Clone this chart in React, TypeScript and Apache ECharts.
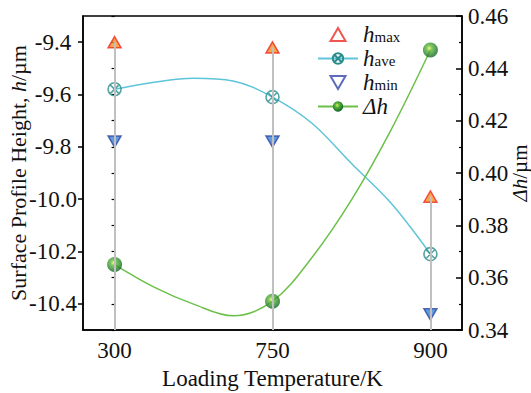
import React, { useEffect, useRef } from "react";
import * as echarts from "echarts";

// Categories (loading temperature, K) placed at equal spacing
const categories = ["300", "750", "900"];
const catIndex = [0, 1, 2];

// Measured points
const hMax = [-9.4, -9.42, -9.99];
const hAve = [-9.58, -9.61, -10.21];
const hMin = [-9.78, -9.78, -10.44];
const dH = [0.365, 0.351, 0.447];

// Fitted curves (x in category-index units)
const curveX = [0, 0.25, 0.5, 0.75, 1, 1.25, 1.5, 1.75, 2];
const hAveCurve = [-9.58, -9.553, -9.538, -9.548, -9.61, -9.71, -9.864, -10.015, -10.21];
const dHCurve = [0.365, 0.3564, 0.3499, 0.3454, 0.351, 0.3677, 0.3897, 0.4164, 0.447];

// Axis ticks
const leftMajor = [-10.4, -10.2, -10.0, -9.8, -9.6, -9.4];
const leftMin = -10.5;
const leftMax = -9.3;
const rightMin = 0.34;
const rightMax = 0.46;
const rightInterval = 0.02;

const FONT = "Liberation Serif";
const xPath =
  "path://M0,10 A10,10 0 1,0 20,10 A10,10 0 1,0 0,10 Z M2.93,2.93 L17.07,17.07 M17.07,2.93 L2.93,17.07";
const triUp = "path://M10,0 L20,17.32 L0,17.32 Z";
const triDown = "path://M0,0 L20,0 L10,17.32 Z";

const ballColor = () =>
  new echarts.graphic.RadialGradient(0.42, 0.38, 0.62, [
    { offset: 0, color: "#eef25a" },
    { offset: 0.3, color: "#5fb83c" },
    { offset: 1, color: "#0d6526" },
  ]);

const legendNames: Record<string, string> = {
  hmax: "{i|h}{s|max}",
  have: "{i|h}{s|ave}",
  hmin: "{i|h}{s|min}",
  "Δh": "{i|Δh}",
};

export default function App() {
  const ref = useRef<HTMLDivElement>(null);
  useEffect(() => {
    if (!ref.current) return;
    const chart = echarts.init(ref.current, null, { renderer: "svg" });
    const axisText = { fontFamily: FONT, fontSize: 23, color: "#111" };
    const leftName = { fontFamily: FONT, fontSize: 22, color: "#111" };
    const rightName = { fontFamily: FONT, fontSize: 21, color: "#111" };
    const option: any = {
      animation: false,
      grid: {
        left: 83,
        right: 69,
        top: 16,
        bottom: 63,
        show: true,
        borderColor: "#000",
        borderWidth: 1.5,
        outerBoundsMode: "none",
        containLabel: false,
      },
      legend: {
        orient: "vertical",
        left: 312,
        top: 18,
        itemWidth: 40,
        itemHeight: 13,
        itemGap: 1,
        data: [
          { name: "hmax", itemStyle: { color: "#fff", borderColor: "#ee2a24" } },
          { name: "have" },
          { name: "hmin", itemStyle: { color: "#fff", borderColor: "#3546a8" } },
          { name: "Δh" },
        ],
        formatter: (n: string) => legendNames[n] || n,
        textStyle: {
          rich: {
            i: { fontFamily: FONT, fontStyle: "italic", fontSize: 23, color: "#111", lineHeight: 20 },
            s: { fontFamily: FONT, fontSize: 15, color: "#111", lineHeight: 11, verticalAlign: "bottom" },
          },
        },
      },
      xAxis: {
        type: "value",
        min: -0.2,
        max: 2.2,
        axisLine: { show: true, onZero: false, lineStyle: { color: "#000", width: 1.5 } },
        axisTick: { show: true, inside: true, length: 6, customValues: catIndex, lineStyle: { color: "#000", width: 1.5 } },
        axisLabel: {
          customValues: catIndex,
          formatter: (v: number) => categories[Math.round(v)] ?? "",
          margin: 9,
          ...axisText,
        },
        splitLine: { show: false },
        name: "Loading Temperature/K",
        nameLocation: "middle",
        nameGap: 37,
        nameMoveOverlap: false,
        nameTextStyle: axisText,
      },
      yAxis: [
        {
          type: "value",
          position: "left",
          min: leftMin,
          max: leftMax,
          axisLine: { show: true, onZero: false, lineStyle: { color: "#000", width: 1.5 } },
          axisTick: { show: true, inside: false, length: 5, customValues: leftMajor, lineStyle: { color: "#000", width: 1.5 } },
          axisLabel: {
            customValues: leftMajor,
            formatter: (v: number) => v.toFixed(1),
            margin: 30,
            align: "center",
            ...axisText,
          },
          splitLine: { show: false },
          name: "{n|Surface Profile Height, }{i|h}{n|/µm}",
          nameLocation: "middle",
          nameGap: 54,
          nameMoveOverlap: false,
          nameTextStyle: {
            rich: {
              n: leftName,
              i: { ...leftName, fontStyle: "italic" },
            },
          },
        },
        {
          type: "value",
          position: "right",
          min: rightMin,
          max: rightMax,
          interval: rightInterval,
          axisLine: { show: true, onZero: false, lineStyle: { color: "#000", width: 1.5 } },
          axisTick: { show: true, inside: true, length: 6, lineStyle: { color: "#000", width: 1.5 } },
          minorTick: { show: true, splitNumber: 2, length: 3, lineStyle: { color: "#000", width: 1.2 } },
          axisLabel: { formatter: (v: number) => v.toFixed(2), margin: 6, ...axisText },
          splitLine: { show: false },
          name: "{i|Δh}{n|/µm}",
          nameLocation: "middle",
          nameGap: 47,
          nameRotate: 90,
          nameMoveOverlap: false,
          nameTextStyle: {
            rich: {
              n: rightName,
              i: { ...rightName, fontStyle: "italic" },
            },
          },
        },
        {
          type: "value",
          position: "left",
          min: leftMin,
          max: leftMax,
          interval: 0.1,
          axisLine: { show: false },
          axisTick: { show: true, inside: false, length: 3, lineStyle: { color: "#000", width: 1.2 } },
          axisLabel: { show: false },
          splitLine: { show: false },
        },
      ],
      series: [
        {
          name: "drop",
          type: "line",
          data: [],
          z: 1,
          markLine: {
            silent: true,
            symbol: "none",
            label: { show: false },
            lineStyle: { color: "#c0c0c0", width: 2, type: "solid" },
            data: catIndex.map((x, i) => [
              { coord: [x, hMax[i]] },
              { coord: [x, leftMin] },
            ]),
          },
        },
        {
          name: "have",
          type: "line",
          z: 2,
          smooth: 0.35,
          data: curveX.map((x, i) => [x, hAveCurve[i]]),
          showSymbol: false,
          symbol: xPath,
          symbolSize: 13,
          lineStyle: { color: "#5ec4d8", width: 1.5 },
          itemStyle: { color: "rgba(0,0,0,0)", borderColor: "#2a8c8c", borderWidth: 1.6 },
        },
        {
          name: "Δh",
          type: "line",
          yAxisIndex: 1,
          z: 2,
          smooth: 0.35,
          data: curveX.map((x, i) => [x, dHCurve[i]]),
          showSymbol: false,
          symbol: "circle",
          symbolSize: 15,
          lineStyle: { color: "#6cc04a", width: 1.5 },
          itemStyle: { color: ballColor() },
        },
        {
          name: "hmax",
          type: "scatter",
          z: 3,
          symbol: triUp,
          symbolSize: 13,
          symbolKeepAspect: true,
          data: catIndex.map((x, i) => [x, hMax[i]]),
          itemStyle: { color: "#f7921e", borderColor: "#ee2a24", borderWidth: 1.5 },
        },
        {
          name: "have",
          type: "scatter",
          z: 3,
          symbol: xPath,
          symbolSize: 13,
          data: catIndex.map((x, i) => [x, hAve[i]]),
          itemStyle: { color: "rgba(255,255,255,0)", borderColor: "#2a8c8c", borderWidth: 1.6 },
        },
        {
          name: "hmin",
          type: "scatter",
          z: 3,
          symbol: triDown,
          symbolSize: 13,
          symbolKeepAspect: true,
          data: catIndex.map((x, i) => [x, hMin[i]]),
          itemStyle: { color: "#3a86d4", borderColor: "#3546a8", borderWidth: 1.5 },
        },
        {
          name: "Δh",
          type: "scatter",
          yAxisIndex: 1,
          z: 3,
          symbol: "circle",
          symbolSize: 15,
          data: catIndex.map((x, i) => [x, dH[i]]),
          itemStyle: { color: ballColor() },
        },
      ],
    };
    chart.setOption(option);
    return () => chart.dispose();
  }, []);
  return (
    <div
      ref={ref}
      style={{ position: "absolute", left: 0, top: 0, width: 531, height: 393, background: "#fff" }}
    />
  );
}
